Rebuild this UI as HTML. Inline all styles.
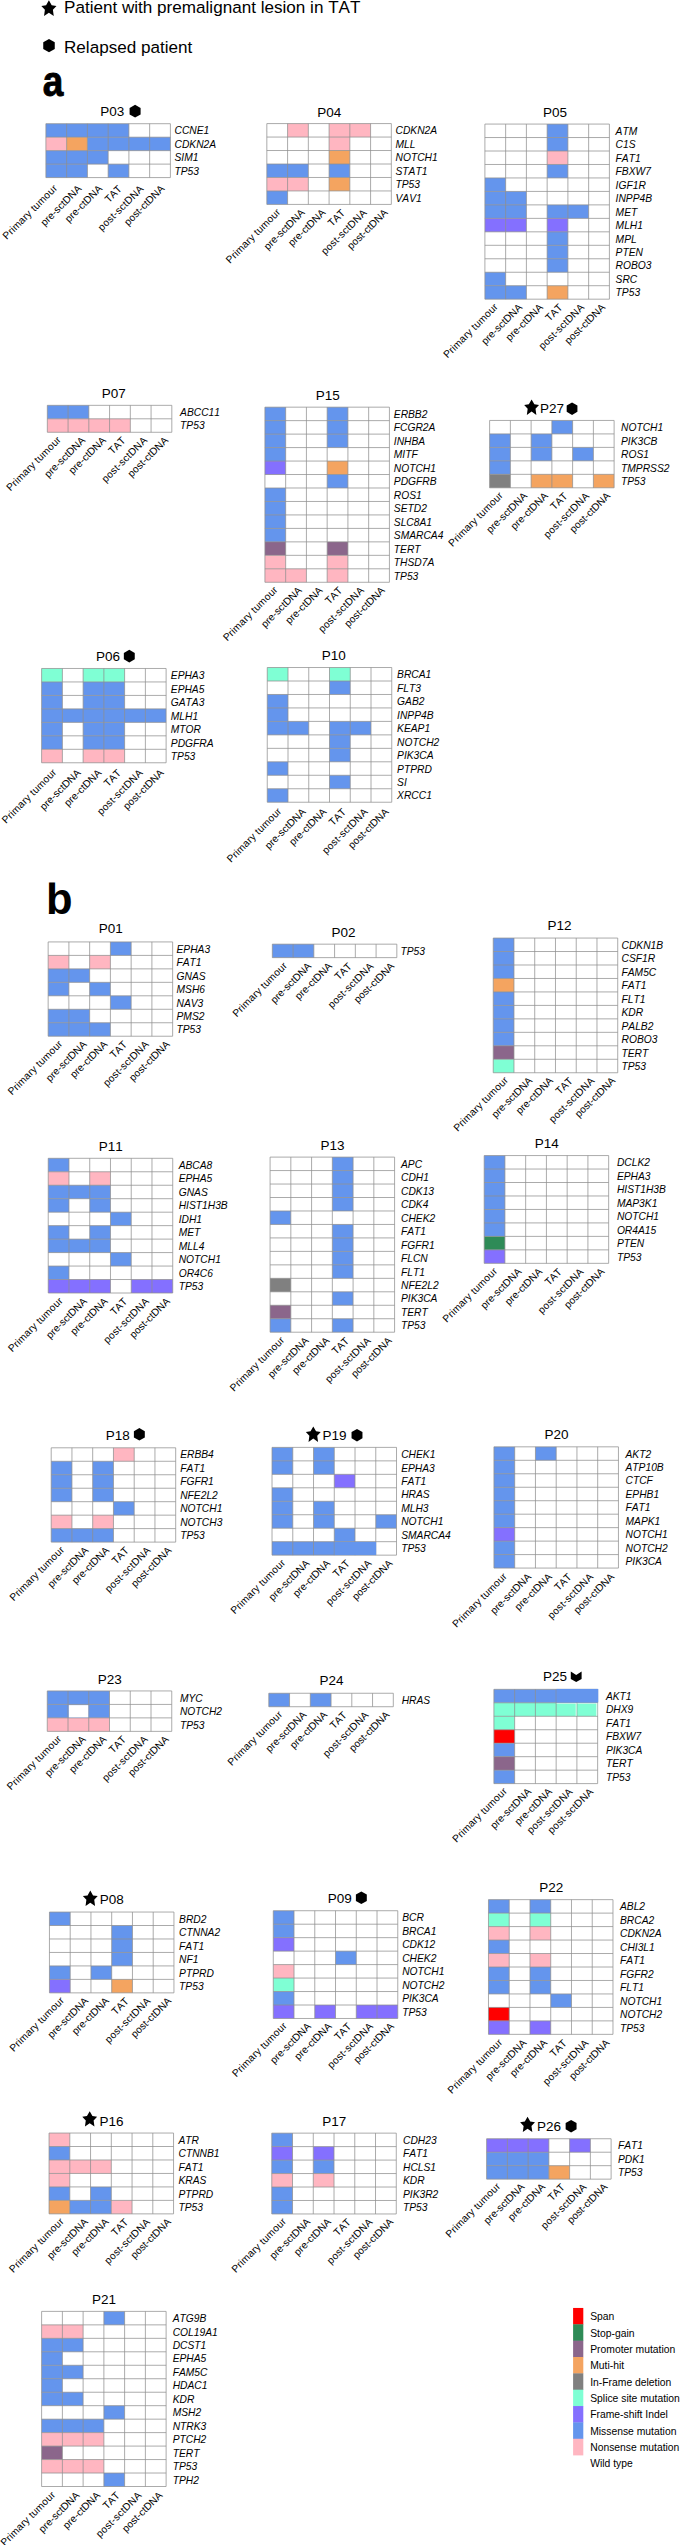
<!DOCTYPE html>
<html lang="en">
<head>
<meta charset="utf-8">
<title>Mutation heatmaps</title>
<style>
html,body{margin:0;padding:0;background:#fff;}
body{width:680px;height:2545px;overflow:hidden;}
svg{display:block;}
text{font-family:"Liberation Sans",Arial,Helvetica,sans-serif;fill:#000;font-kerning:none;}
.g{font-size:10.25px;font-style:italic;}
.c{font-size:10.2px;text-anchor:end;font-kerning:none;}
.pt{letter-spacing:0.2px;}
.ps{letter-spacing:0.22px;}
.t{font-size:13.5px;}
.l{font-size:10.35px;}
.h{font-size:17.1px;}
.big{font-size:43.5px;font-weight:bold;}
.gl{fill:none;stroke:#8f8f8f;stroke-width:0.75;}
</style>
</head>
<body>
<svg width="680" height="2545" viewBox="0 0 680 2545">
<rect width="680" height="2545" fill="#fff"/>
<polygon points="48.9,0.3 51.7,5.18 56.48,5.9 52.9,9.7 53.75,16 48.9,12.65 44.05,16 44.9,9.7 41.32,5.9 46.1,5.18" fill="#000" fill-rule="nonzero"/>
<text class="h" x="64" y="12.5">Patient with premalignant lesion in TAT</text>
<polygon points="49,38.95 54.76,42.27 54.76,48.92 49,52.25 43.24,48.93 43.24,42.27" fill="#000"/>
<text class="h" x="64" y="52.5">Relapsed patient</text>
<text class="big" style="font-size:43px;stroke:#000;stroke-width:0.9px;stroke-linejoin:round" transform="translate(42.8 96.1) scale(0.86 1)">a</text>
<clipPath id="cb"><rect x="40" y="882.6" width="40" height="40"/></clipPath>
<text class="big" x="46" y="913.8" clip-path="url(#cb)">b</text>
<g>
<rect x="45.9" y="123.71" width="124.5" height="53.88" fill="#fff"/>
<rect x="45.9" y="123.71" width="83" height="13.47" fill="#6495ed"/>
<rect x="45.9" y="137.18" width="20.75" height="13.47" fill="#ffb6c1"/>
<rect x="66.65" y="137.18" width="20.75" height="13.47" fill="#f4a460"/>
<rect x="87.4" y="137.18" width="83" height="13.47" fill="#6495ed"/>
<rect x="45.9" y="150.65" width="62.25" height="13.47" fill="#6495ed"/>
<rect x="45.9" y="164.12" width="41.5" height="13.47" fill="#6495ed"/>
<rect x="108.15" y="164.12" width="20.75" height="13.47" fill="#6495ed"/>
<path d="M45.9 123.71H170.4M45.9 137.18H170.4M45.9 150.65H170.4M45.9 164.12H170.4M45.9 177.59H170.4M45.9 123.71V177.59M66.65 123.71V177.59M87.4 123.71V177.59M108.15 123.71V177.59M128.9 123.71V177.59M149.65 123.71V177.59M170.4 123.71V177.59" class="gl"/>
<text class="g" x="174.5" y="134.4">CCNE1</text>
<text class="g" x="174.5" y="147.87">CDKN2A</text>
<text class="g" x="174.5" y="161.34">SIM1</text>
<text class="g" x="174.5" y="174.81">TP53</text>
<text class="c pt" transform="translate(57.95 188.8) rotate(-45)">Primary tumour</text>
<text class="c" transform="translate(82 189.3) rotate(-45)">pre-sctDNA</text>
<text class="c" transform="translate(102.75 189.3) rotate(-45)">pre-ctDNA</text>
<text class="c" transform="translate(122.5 189.6) rotate(-45)">TAT</text>
<text class="c ps" transform="translate(144.25 189.3) rotate(-45)">post-sctDNA</text>
<text class="c" transform="translate(165 189.3) rotate(-45)">post-ctDNA</text>
<text class="t" x="100.35" y="116.3">P03</text>
<polygon points="135.1,104.85 140.6,108.03 140.6,114.38 135.1,117.55 129.6,114.38 129.6,108.03" fill="#000"/>
</g>
<g>
<rect x="266.83" y="123.59" width="124.5" height="80.82" fill="#fff"/>
<rect x="287.58" y="123.59" width="20.75" height="13.47" fill="#ffb6c1"/>
<rect x="329.08" y="123.59" width="41.5" height="13.47" fill="#ffb6c1"/>
<rect x="329.08" y="137.06" width="20.75" height="13.47" fill="#ffb6c1"/>
<rect x="329.08" y="150.53" width="20.75" height="13.47" fill="#f4a460"/>
<rect x="266.83" y="164" width="41.5" height="13.47" fill="#6495ed"/>
<rect x="329.08" y="164" width="20.75" height="13.47" fill="#6495ed"/>
<rect x="266.83" y="177.47" width="41.5" height="13.47" fill="#ffb6c1"/>
<rect x="329.08" y="177.47" width="20.75" height="13.47" fill="#f4a460"/>
<rect x="266.83" y="190.94" width="20.75" height="13.47" fill="#6495ed"/>
<path d="M266.83 123.59H391.33M266.83 137.06H391.33M266.83 150.53H391.33M266.83 164H391.33M266.83 177.47H391.33M266.83 190.94H391.33M266.83 204.41H391.33M266.83 123.59V204.41M287.58 123.59V204.41M308.33 123.59V204.41M329.08 123.59V204.41M349.83 123.59V204.41M370.58 123.59V204.41M391.33 123.59V204.41" class="gl"/>
<text class="g" x="395.5" y="134.27">CDKN2A</text>
<text class="g" x="395.5" y="147.74">MLL</text>
<text class="g" x="395.5" y="161.21">NOTCH1</text>
<text class="g" x="395.5" y="174.68">STAT1</text>
<text class="g" x="395.5" y="188.15">TP53</text>
<text class="g" x="395.5" y="201.62">VAV1</text>
<text class="c pt" transform="translate(281.15 212.7) rotate(-45)">Primary tumour</text>
<text class="c" transform="translate(305.2 213.2) rotate(-45)">pre-sctDNA</text>
<text class="c" transform="translate(325.95 213.2) rotate(-45)">pre-ctDNA</text>
<text class="c" transform="translate(345.7 213.5) rotate(-45)">TAT</text>
<text class="c ps" transform="translate(367.45 213.2) rotate(-45)">post-sctDNA</text>
<text class="c" transform="translate(388.2 213.2) rotate(-45)">post-ctDNA</text>
<text class="t" x="317.15" y="116.5">P04</text>
</g>
<g>
<rect x="484.9" y="124.07" width="124.5" height="175.11" fill="#fff"/>
<rect x="547.15" y="124.07" width="20.75" height="13.47" fill="#6495ed"/>
<rect x="547.15" y="137.54" width="20.75" height="13.47" fill="#6495ed"/>
<rect x="547.15" y="151.01" width="20.75" height="13.47" fill="#ffb6c1"/>
<rect x="547.15" y="164.48" width="20.75" height="13.47" fill="#6495ed"/>
<rect x="484.9" y="177.95" width="20.75" height="13.47" fill="#6495ed"/>
<rect x="484.9" y="191.42" width="41.5" height="13.47" fill="#6495ed"/>
<rect x="484.9" y="204.89" width="41.5" height="13.47" fill="#6495ed"/>
<rect x="547.15" y="204.89" width="41.5" height="13.47" fill="#6495ed"/>
<rect x="484.9" y="218.36" width="41.5" height="13.47" fill="#8470ff"/>
<rect x="547.15" y="218.36" width="20.75" height="13.47" fill="#8470ff"/>
<rect x="547.15" y="231.83" width="20.75" height="13.47" fill="#6495ed"/>
<rect x="547.15" y="245.3" width="20.75" height="13.47" fill="#6495ed"/>
<rect x="547.15" y="258.77" width="20.75" height="13.47" fill="#6495ed"/>
<rect x="484.9" y="272.24" width="20.75" height="13.47" fill="#6495ed"/>
<rect x="484.9" y="285.71" width="41.5" height="13.47" fill="#6495ed"/>
<rect x="547.15" y="285.71" width="20.75" height="13.47" fill="#f4a460"/>
<path d="M484.9 124.07H609.4M484.9 137.54H609.4M484.9 151.01H609.4M484.9 164.48H609.4M484.9 177.95H609.4M484.9 191.42H609.4M484.9 204.89H609.4M484.9 218.36H609.4M484.9 231.83H609.4M484.9 245.3H609.4M484.9 258.77H609.4M484.9 272.24H609.4M484.9 285.71H609.4M484.9 299.18H609.4M484.9 124.07V299.18M505.65 124.07V299.18M526.4 124.07V299.18M547.15 124.07V299.18M567.9 124.07V299.18M588.65 124.07V299.18M609.4 124.07V299.18" class="gl"/>
<text class="g" x="615.6" y="134.75">ATM</text>
<text class="g" x="615.6" y="148.22">C1S</text>
<text class="g" x="615.6" y="161.69">FAT1</text>
<text class="g" x="615.6" y="175.16">FBXW7</text>
<text class="g" x="615.6" y="188.63">IGF1R</text>
<text class="g" x="615.6" y="202.1">INPP4B</text>
<text class="g" x="615.6" y="215.57">MET</text>
<text class="g" x="615.6" y="229.04">MLH1</text>
<text class="g" x="615.6" y="242.51">MPL</text>
<text class="g" x="615.6" y="255.98">PTEN</text>
<text class="g" x="615.6" y="269.45">ROBO3</text>
<text class="g" x="615.6" y="282.93">SRC</text>
<text class="g" x="615.6" y="296.39">TP53</text>
<text class="c pt" transform="translate(498.65 307.4) rotate(-45)">Primary tumour</text>
<text class="c" transform="translate(522.7 307.9) rotate(-45)">pre-sctDNA</text>
<text class="c" transform="translate(543.45 307.9) rotate(-45)">pre-ctDNA</text>
<text class="c" transform="translate(563.2 308.2) rotate(-45)">TAT</text>
<text class="c ps" transform="translate(584.95 307.9) rotate(-45)">post-sctDNA</text>
<text class="c" transform="translate(605.7 307.9) rotate(-45)">post-ctDNA</text>
<text class="t" x="542.95" y="117.2">P05</text>
</g>
<g>
<rect x="47.32" y="405.33" width="124.5" height="26.94" fill="#fff"/>
<rect x="47.32" y="405.33" width="41.5" height="13.47" fill="#6495ed"/>
<rect x="47.32" y="418.8" width="83" height="13.47" fill="#ffb6c1"/>
<path d="M47.32 405.33H171.82M47.32 418.8H171.82M47.32 432.27H171.82M47.32 405.33V432.27M68.07 405.33V432.27M88.82 405.33V432.27M109.57 405.33V432.27M130.32 405.33V432.27M151.07 405.33V432.27M171.82 405.33V432.27" class="gl"/>
<text class="g" x="180.1" y="416.01">ABCC11</text>
<text class="g" x="180.1" y="429.48">TP53</text>
<text class="c pt" transform="translate(61.65 440.4) rotate(-45)">Primary tumour</text>
<text class="c" transform="translate(85.7 440.9) rotate(-45)">pre-sctDNA</text>
<text class="c" transform="translate(106.45 440.9) rotate(-45)">pre-ctDNA</text>
<text class="c" transform="translate(126.2 441.2) rotate(-45)">TAT</text>
<text class="c ps" transform="translate(147.95 440.9) rotate(-45)">post-sctDNA</text>
<text class="c" transform="translate(168.7 440.9) rotate(-45)">post-ctDNA</text>
<text class="t" x="101.75" y="397.85">P07</text>
</g>
<g>
<rect x="264.92" y="407.17" width="124.5" height="175.11" fill="#fff"/>
<rect x="264.92" y="407.17" width="20.75" height="13.47" fill="#6495ed"/>
<rect x="327.17" y="407.17" width="20.75" height="13.47" fill="#6495ed"/>
<rect x="264.92" y="420.64" width="20.75" height="13.47" fill="#6495ed"/>
<rect x="327.17" y="420.64" width="20.75" height="13.47" fill="#6495ed"/>
<rect x="264.92" y="434.11" width="20.75" height="13.47" fill="#6495ed"/>
<rect x="327.17" y="434.11" width="20.75" height="13.47" fill="#6495ed"/>
<rect x="264.92" y="447.58" width="20.75" height="13.47" fill="#6495ed"/>
<rect x="264.92" y="461.05" width="20.75" height="13.47" fill="#8470ff"/>
<rect x="327.17" y="461.05" width="20.75" height="13.47" fill="#f4a460"/>
<rect x="327.17" y="474.52" width="20.75" height="13.47" fill="#6495ed"/>
<rect x="264.92" y="487.99" width="20.75" height="13.47" fill="#6495ed"/>
<rect x="264.92" y="501.46" width="20.75" height="13.47" fill="#6495ed"/>
<rect x="264.92" y="514.93" width="20.75" height="13.47" fill="#6495ed"/>
<rect x="264.92" y="528.4" width="20.75" height="13.47" fill="#6495ed"/>
<rect x="264.92" y="541.87" width="20.75" height="13.47" fill="#8b668b"/>
<rect x="327.17" y="541.87" width="20.75" height="13.47" fill="#8b668b"/>
<rect x="264.92" y="555.34" width="20.75" height="13.47" fill="#ffb6c1"/>
<rect x="327.17" y="555.34" width="20.75" height="13.47" fill="#ffb6c1"/>
<rect x="264.92" y="568.81" width="41.5" height="13.47" fill="#ffb6c1"/>
<rect x="327.17" y="568.81" width="20.75" height="13.47" fill="#ffb6c1"/>
<path d="M264.92 407.17H389.42M264.92 420.64H389.42M264.92 434.11H389.42M264.92 447.58H389.42M264.92 461.05H389.42M264.92 474.52H389.42M264.92 487.99H389.42M264.92 501.46H389.42M264.92 514.93H389.42M264.92 528.4H389.42M264.92 541.87H389.42M264.92 555.34H389.42M264.92 568.81H389.42M264.92 582.28H389.42M264.92 407.17V582.28M285.67 407.17V582.28M306.42 407.17V582.28M327.17 407.17V582.28M347.92 407.17V582.28M368.67 407.17V582.28M389.42 407.17V582.28" class="gl"/>
<text class="g" x="393.8" y="417.86">ERBB2</text>
<text class="g" x="393.8" y="431.32">FCGR2A</text>
<text class="g" x="393.8" y="444.8">INHBA</text>
<text class="g" x="393.8" y="458.26">MITF</text>
<text class="g" x="393.8" y="471.74">NOTCH1</text>
<text class="g" x="393.8" y="485.2">PDGFRB</text>
<text class="g" x="393.8" y="498.68">ROS1</text>
<text class="g" x="393.8" y="512.15">SETD2</text>
<text class="g" x="393.8" y="525.62">SLC8A1</text>
<text class="g" x="393.8" y="539.09">SMARCA4</text>
<text class="g" x="393.8" y="552.56">TERT</text>
<text class="g" x="393.8" y="566.03">THSD7A</text>
<text class="g" x="393.8" y="579.5">TP53</text>
<text class="c pt" transform="translate(278.35 590.4) rotate(-45)">Primary tumour</text>
<text class="c" transform="translate(302.4 590.9) rotate(-45)">pre-sctDNA</text>
<text class="c" transform="translate(323.15 590.9) rotate(-45)">pre-ctDNA</text>
<text class="c" transform="translate(342.9 591.2) rotate(-45)">TAT</text>
<text class="c ps" transform="translate(364.65 590.9) rotate(-45)">post-sctDNA</text>
<text class="c" transform="translate(385.4 590.9) rotate(-45)">post-ctDNA</text>
<text class="t" x="315.85" y="399.6">P15</text>
</g>
<g>
<rect x="489.62" y="420.45" width="124.5" height="67.35" fill="#fff"/>
<rect x="551.88" y="420.45" width="20.75" height="13.47" fill="#6495ed"/>
<rect x="489.62" y="433.92" width="20.75" height="13.47" fill="#6495ed"/>
<rect x="531.12" y="433.92" width="20.75" height="13.47" fill="#6495ed"/>
<rect x="489.62" y="447.39" width="20.75" height="13.47" fill="#6495ed"/>
<rect x="531.12" y="447.39" width="20.75" height="13.47" fill="#6495ed"/>
<rect x="572.62" y="447.39" width="20.75" height="13.47" fill="#6495ed"/>
<rect x="489.62" y="460.86" width="20.75" height="13.47" fill="#6495ed"/>
<rect x="489.62" y="474.33" width="20.75" height="13.47" fill="#808080"/>
<rect x="531.12" y="474.33" width="41.5" height="13.47" fill="#f4a460"/>
<rect x="593.38" y="474.33" width="20.75" height="13.47" fill="#f4a460"/>
<path d="M489.62 420.45H614.12M489.62 433.92H614.12M489.62 447.39H614.12M489.62 460.86H614.12M489.62 474.33H614.12M489.62 487.8H614.12M489.62 420.45V487.8M510.38 420.45V487.8M531.12 420.45V487.8M551.88 420.45V487.8M572.62 420.45V487.8M593.38 420.45V487.8M614.12 420.45V487.8" class="gl"/>
<text class="g" x="621" y="431.13">NOTCH1</text>
<text class="g" x="621" y="444.6">PIK3CB</text>
<text class="g" x="621" y="458.07">ROS1</text>
<text class="g" x="621" y="471.54">TMPRSS2</text>
<text class="g" x="621" y="485.01">TP53</text>
<text class="c pt" transform="translate(503.65 496) rotate(-45)">Primary tumour</text>
<text class="c" transform="translate(527.7 496.5) rotate(-45)">pre-sctDNA</text>
<text class="c" transform="translate(548.45 496.5) rotate(-45)">pre-ctDNA</text>
<text class="c" transform="translate(568.2 496.8) rotate(-45)">TAT</text>
<text class="c ps" transform="translate(589.95 496.5) rotate(-45)">post-sctDNA</text>
<text class="c" transform="translate(610.7 496.5) rotate(-45)">post-ctDNA</text>
<text class="t" x="539.95" y="412.8">P27</text>
<polygon points="531.6,399.51 534.34,404.29 539.03,405 535.52,408.72 536.35,414.89 531.6,411.61 526.85,414.89 527.68,408.72 524.17,405 528.86,404.29" fill="#000" fill-rule="nonzero"/>
<polygon points="572.05,402.5 577.42,405.6 577.42,411.8 572.05,414.9 566.68,411.8 566.68,405.6" fill="#000"/>
</g>
<g>
<rect x="41.62" y="668.48" width="124.5" height="94.29" fill="#fff"/>
<rect x="41.62" y="668.48" width="20.75" height="13.47" fill="#7fffd4"/>
<rect x="83.12" y="668.48" width="41.5" height="13.47" fill="#7fffd4"/>
<rect x="41.62" y="681.95" width="20.75" height="13.47" fill="#6495ed"/>
<rect x="83.12" y="681.95" width="41.5" height="13.47" fill="#6495ed"/>
<rect x="41.62" y="695.42" width="20.75" height="13.47" fill="#6495ed"/>
<rect x="83.12" y="695.42" width="41.5" height="13.47" fill="#6495ed"/>
<rect x="41.62" y="708.89" width="124.5" height="13.47" fill="#6495ed"/>
<rect x="41.62" y="722.36" width="20.75" height="13.47" fill="#6495ed"/>
<rect x="83.12" y="722.36" width="41.5" height="13.47" fill="#6495ed"/>
<rect x="41.62" y="735.83" width="20.75" height="13.47" fill="#6495ed"/>
<rect x="83.12" y="735.83" width="41.5" height="13.47" fill="#6495ed"/>
<rect x="41.62" y="749.3" width="20.75" height="13.47" fill="#ffb6c1"/>
<rect x="83.12" y="749.3" width="41.5" height="13.47" fill="#ffb6c1"/>
<path d="M41.62 668.48H166.12M41.62 681.95H166.12M41.62 695.42H166.12M41.62 708.89H166.12M41.62 722.36H166.12M41.62 735.83H166.12M41.62 749.3H166.12M41.62 762.77H166.12M41.62 668.48V762.77M62.38 668.48V762.77M83.12 668.48V762.77M103.88 668.48V762.77M124.62 668.48V762.77M145.38 668.48V762.77M166.12 668.48V762.77" class="gl"/>
<text class="g" x="170.8" y="679.17">EPHA3</text>
<text class="g" x="170.8" y="692.64">EPHA5</text>
<text class="g" x="170.8" y="706.11">GATA3</text>
<text class="g" x="170.8" y="719.58">MLH1</text>
<text class="g" x="170.8" y="733.05">MTOR</text>
<text class="g" x="170.8" y="746.52">PDGFRA</text>
<text class="g" x="170.8" y="759.99">TP53</text>
<text class="c pt" transform="translate(57.15 772.9) rotate(-45)">Primary tumour</text>
<text class="c" transform="translate(81.2 773.4) rotate(-45)">pre-sctDNA</text>
<text class="c" transform="translate(101.95 773.4) rotate(-45)">pre-ctDNA</text>
<text class="c" transform="translate(121.7 773.7) rotate(-45)">TAT</text>
<text class="c ps" transform="translate(143.45 773.4) rotate(-45)">post-sctDNA</text>
<text class="c" transform="translate(164.2 773.4) rotate(-45)">post-ctDNA</text>
<text class="t" x="95.95" y="661.1">P06</text>
<polygon points="129.3,649.85 134.76,653 134.76,659.3 129.3,662.45 123.84,659.3 123.84,653" fill="#000"/>
</g>
<g>
<rect x="267.25" y="667.52" width="124.5" height="134.7" fill="#fff"/>
<rect x="267.25" y="667.52" width="20.75" height="13.47" fill="#7fffd4"/>
<rect x="329.5" y="667.52" width="20.75" height="13.47" fill="#7fffd4"/>
<rect x="329.5" y="681" width="20.75" height="13.47" fill="#6495ed"/>
<rect x="267.25" y="694.47" width="20.75" height="13.47" fill="#6495ed"/>
<rect x="267.25" y="707.93" width="20.75" height="13.47" fill="#6495ed"/>
<rect x="267.25" y="721.4" width="41.5" height="13.47" fill="#6495ed"/>
<rect x="329.5" y="721.4" width="41.5" height="13.47" fill="#6495ed"/>
<rect x="329.5" y="734.88" width="20.75" height="13.47" fill="#6495ed"/>
<rect x="329.5" y="748.35" width="20.75" height="13.47" fill="#6495ed"/>
<rect x="267.25" y="761.81" width="20.75" height="13.47" fill="#6495ed"/>
<rect x="329.5" y="775.28" width="20.75" height="13.47" fill="#6495ed"/>
<rect x="267.25" y="788.75" width="20.75" height="13.47" fill="#6495ed"/>
<path d="M267.25 667.52H391.75M267.25 681H391.75M267.25 694.47H391.75M267.25 707.93H391.75M267.25 721.4H391.75M267.25 734.88H391.75M267.25 748.35H391.75M267.25 761.81H391.75M267.25 775.28H391.75M267.25 788.75H391.75M267.25 802.23H391.75M267.25 667.52V802.23M288 667.52V802.23M308.75 667.52V802.23M329.5 667.52V802.23M350.25 667.52V802.23M371 667.52V802.23M391.75 667.52V802.23" class="gl"/>
<text class="g" x="397.1" y="678.21">BRCA1</text>
<text class="g" x="397.1" y="691.68">FLT3</text>
<text class="g" x="397.1" y="705.15">GAB2</text>
<text class="g" x="397.1" y="718.62">INPP4B</text>
<text class="g" x="397.1" y="732.09">KEAP1</text>
<text class="g" x="397.1" y="745.56">NOTCH2</text>
<text class="g" x="397.1" y="759.03">PIK3CA</text>
<text class="g" x="397.1" y="772.5">PTPRD</text>
<text class="g" x="397.1" y="785.97">SI</text>
<text class="g" x="397.1" y="799.44">XRCC1</text>
<text class="c pt" transform="translate(282.15 811.9) rotate(-45)">Primary tumour</text>
<text class="c" transform="translate(306.2 812.4) rotate(-45)">pre-sctDNA</text>
<text class="c" transform="translate(326.95 812.4) rotate(-45)">pre-ctDNA</text>
<text class="c" transform="translate(346.7 812.7) rotate(-45)">TAT</text>
<text class="c ps" transform="translate(368.45 812.4) rotate(-45)">post-sctDNA</text>
<text class="c" transform="translate(389.2 812.4) rotate(-45)">post-ctDNA</text>
<text class="t" x="321.75" y="659.85">P10</text>
</g>
<g>
<rect x="48.15" y="941.93" width="124.5" height="94.29" fill="#fff"/>
<rect x="110.4" y="941.93" width="20.75" height="13.47" fill="#6495ed"/>
<rect x="48.15" y="955.4" width="20.75" height="13.47" fill="#ffb6c1"/>
<rect x="89.65" y="955.4" width="20.75" height="13.47" fill="#ffb6c1"/>
<rect x="48.15" y="968.87" width="41.5" height="13.47" fill="#6495ed"/>
<rect x="48.15" y="982.34" width="20.75" height="13.47" fill="#6495ed"/>
<rect x="89.65" y="982.34" width="20.75" height="13.47" fill="#6495ed"/>
<rect x="110.4" y="995.81" width="20.75" height="13.47" fill="#6495ed"/>
<rect x="48.15" y="1009.28" width="41.5" height="13.47" fill="#6495ed"/>
<rect x="48.15" y="1022.75" width="62.25" height="13.47" fill="#6495ed"/>
<path d="M48.15 941.93H172.65M48.15 955.4H172.65M48.15 968.87H172.65M48.15 982.34H172.65M48.15 995.81H172.65M48.15 1009.28H172.65M48.15 1022.75H172.65M48.15 1036.22H172.65M48.15 941.93V1036.22M68.9 941.93V1036.22M89.65 941.93V1036.22M110.4 941.93V1036.22M131.15 941.93V1036.22M151.9 941.93V1036.22M172.65 941.93V1036.22" class="gl"/>
<text class="g" x="176.5" y="952.62">EPHA3</text>
<text class="g" x="176.5" y="966.09">FAT1</text>
<text class="g" x="176.5" y="979.55">GNAS</text>
<text class="g" x="176.5" y="993.02">MSH6</text>
<text class="g" x="176.5" y="1006.5">NAV3</text>
<text class="g" x="176.5" y="1019.97">PMS2</text>
<text class="g" x="176.5" y="1033.43">TP53</text>
<text class="c pt" transform="translate(63.15 1044.4) rotate(-45)">Primary tumour</text>
<text class="c" transform="translate(87.2 1044.9) rotate(-45)">pre-sctDNA</text>
<text class="c" transform="translate(107.95 1044.9) rotate(-45)">pre-ctDNA</text>
<text class="c" transform="translate(127.7 1045.2) rotate(-45)">TAT</text>
<text class="c ps" transform="translate(149.45 1044.9) rotate(-45)">post-sctDNA</text>
<text class="c" transform="translate(170.2 1044.9) rotate(-45)">post-ctDNA</text>
<text class="t" x="98.85" y="932.9">P01</text>
</g>
<g>
<rect x="272.33" y="944.16" width="124.5" height="13.47" fill="#fff"/>
<rect x="272.33" y="944.16" width="41.5" height="13.47" fill="#6495ed"/>
<path d="M272.33 944.16H396.83M272.33 957.63H396.83M272.33 944.16V957.63M293.08 944.16V957.63M313.83 944.16V957.63M334.58 944.16V957.63M355.33 944.16V957.63M376.08 944.16V957.63M396.83 944.16V957.63" class="gl"/>
<text class="g" x="400.5" y="954.85">TP53</text>
<text class="c pt" transform="translate(287.85 966.2) rotate(-45)">Primary tumour</text>
<text class="c" transform="translate(311.9 966.7) rotate(-45)">pre-sctDNA</text>
<text class="c" transform="translate(332.65 966.7) rotate(-45)">pre-ctDNA</text>
<text class="c" transform="translate(352.4 967) rotate(-45)">TAT</text>
<text class="c ps" transform="translate(374.15 966.7) rotate(-45)">post-sctDNA</text>
<text class="c" transform="translate(394.9 966.7) rotate(-45)">post-ctDNA</text>
<text class="t" x="331.5" y="936.5">P02</text>
</g>
<g>
<rect x="493.23" y="938.05" width="124.5" height="134.7" fill="#fff"/>
<rect x="493.23" y="938.05" width="20.75" height="13.47" fill="#6495ed"/>
<rect x="493.23" y="951.52" width="20.75" height="13.47" fill="#6495ed"/>
<rect x="493.23" y="964.99" width="20.75" height="13.47" fill="#6495ed"/>
<rect x="493.23" y="978.46" width="20.75" height="13.47" fill="#f4a460"/>
<rect x="493.23" y="991.93" width="20.75" height="13.47" fill="#6495ed"/>
<rect x="493.23" y="1005.4" width="20.75" height="13.47" fill="#6495ed"/>
<rect x="493.23" y="1018.87" width="20.75" height="13.47" fill="#6495ed"/>
<rect x="493.23" y="1032.34" width="20.75" height="13.47" fill="#6495ed"/>
<rect x="493.23" y="1045.81" width="20.75" height="13.47" fill="#8b668b"/>
<rect x="493.23" y="1059.28" width="20.75" height="13.47" fill="#7fffd4"/>
<path d="M493.23 938.05H617.73M493.23 951.52H617.73M493.23 964.99H617.73M493.23 978.46H617.73M493.23 991.93H617.73M493.23 1005.4H617.73M493.23 1018.87H617.73M493.23 1032.34H617.73M493.23 1045.81H617.73M493.23 1059.28H617.73M493.23 1072.75H617.73M493.23 938.05V1072.75M513.98 938.05V1072.75M534.73 938.05V1072.75M555.48 938.05V1072.75M576.23 938.05V1072.75M596.98 938.05V1072.75M617.73 938.05V1072.75" class="gl"/>
<text class="g" x="621.5" y="948.74">CDKN1B</text>
<text class="g" x="621.5" y="962.21">CSF1R</text>
<text class="g" x="621.5" y="975.67">FAM5C</text>
<text class="g" x="621.5" y="989.14">FAT1</text>
<text class="g" x="621.5" y="1002.62">FLT1</text>
<text class="g" x="621.5" y="1016.09">KDR</text>
<text class="g" x="621.5" y="1029.56">PALB2</text>
<text class="g" x="621.5" y="1043.03">ROBO3</text>
<text class="g" x="621.5" y="1056.5">TERT</text>
<text class="g" x="621.5" y="1069.96">TP53</text>
<text class="c pt" transform="translate(508.85 1080.7) rotate(-45)">Primary tumour</text>
<text class="c" transform="translate(532.9 1081.2) rotate(-45)">pre-sctDNA</text>
<text class="c" transform="translate(553.65 1081.2) rotate(-45)">pre-ctDNA</text>
<text class="c" transform="translate(573.4 1081.5) rotate(-45)">TAT</text>
<text class="c ps" transform="translate(595.15 1081.2) rotate(-45)">post-sctDNA</text>
<text class="c" transform="translate(615.9 1081.2) rotate(-45)">post-ctDNA</text>
<text class="t" x="547.4" y="930.2">P12</text>
</g>
<g>
<rect x="48.22" y="1158.3" width="124.5" height="134.7" fill="#fff"/>
<rect x="48.22" y="1158.3" width="20.75" height="13.47" fill="#6495ed"/>
<rect x="48.22" y="1171.77" width="20.75" height="13.47" fill="#ffb6c1"/>
<rect x="89.72" y="1171.77" width="20.75" height="13.47" fill="#ffb6c1"/>
<rect x="48.22" y="1185.24" width="62.25" height="13.47" fill="#6495ed"/>
<rect x="48.22" y="1198.71" width="20.75" height="13.47" fill="#6495ed"/>
<rect x="89.72" y="1198.71" width="20.75" height="13.47" fill="#6495ed"/>
<rect x="110.47" y="1212.18" width="20.75" height="13.47" fill="#6495ed"/>
<rect x="48.22" y="1225.65" width="20.75" height="13.47" fill="#6495ed"/>
<rect x="89.72" y="1225.65" width="20.75" height="13.47" fill="#6495ed"/>
<rect x="48.22" y="1239.12" width="62.25" height="13.47" fill="#6495ed"/>
<rect x="110.47" y="1252.59" width="20.75" height="13.47" fill="#6495ed"/>
<rect x="48.22" y="1266.06" width="20.75" height="13.47" fill="#6495ed"/>
<rect x="48.22" y="1279.53" width="62.25" height="13.47" fill="#8470ff"/>
<rect x="131.22" y="1279.53" width="41.5" height="13.47" fill="#8470ff"/>
<path d="M48.22 1158.3H172.72M48.22 1171.77H172.72M48.22 1185.24H172.72M48.22 1198.71H172.72M48.22 1212.18H172.72M48.22 1225.65H172.72M48.22 1239.12H172.72M48.22 1252.59H172.72M48.22 1266.06H172.72M48.22 1279.53H172.72M48.22 1293H172.72M48.22 1158.3V1293M68.97 1158.3V1293M89.72 1158.3V1293M110.47 1158.3V1293M131.22 1158.3V1293M151.97 1158.3V1293M172.72 1158.3V1293" class="gl"/>
<text class="g" x="178.7" y="1168.99">ABCA8</text>
<text class="g" x="178.7" y="1182.46">EPHA5</text>
<text class="g" x="178.7" y="1195.93">GNAS</text>
<text class="g" x="178.7" y="1209.4">HIST1H3B</text>
<text class="g" x="178.7" y="1222.87">IDH1</text>
<text class="g" x="178.7" y="1236.34">MET</text>
<text class="g" x="178.7" y="1249.81">MLL4</text>
<text class="g" x="178.7" y="1263.28">NOTCH1</text>
<text class="g" x="178.7" y="1276.75">OR4C6</text>
<text class="g" x="178.7" y="1290.22">TP53</text>
<text class="c pt" transform="translate(63.45 1301.4) rotate(-45)">Primary tumour</text>
<text class="c" transform="translate(87.5 1301.9) rotate(-45)">pre-sctDNA</text>
<text class="c" transform="translate(108.25 1301.9) rotate(-45)">pre-ctDNA</text>
<text class="c" transform="translate(128 1302.2) rotate(-45)">TAT</text>
<text class="c ps" transform="translate(149.75 1301.9) rotate(-45)">post-sctDNA</text>
<text class="c" transform="translate(170.5 1301.9) rotate(-45)">post-ctDNA</text>
<text class="t" x="98.85" y="1150.5">P11</text>
</g>
<g>
<rect x="270.08" y="1157.1" width="124.5" height="175.11" fill="#fff"/>
<rect x="332.33" y="1157.1" width="20.75" height="13.47" fill="#6495ed"/>
<rect x="332.33" y="1170.57" width="20.75" height="13.47" fill="#6495ed"/>
<rect x="332.33" y="1184.04" width="20.75" height="13.47" fill="#6495ed"/>
<rect x="332.33" y="1197.51" width="20.75" height="13.47" fill="#6495ed"/>
<rect x="270.08" y="1210.98" width="20.75" height="13.47" fill="#6495ed"/>
<rect x="332.33" y="1224.44" width="20.75" height="13.47" fill="#6495ed"/>
<rect x="332.33" y="1237.91" width="20.75" height="13.47" fill="#6495ed"/>
<rect x="332.33" y="1251.38" width="20.75" height="13.47" fill="#6495ed"/>
<rect x="332.33" y="1264.86" width="20.75" height="13.47" fill="#6495ed"/>
<rect x="270.08" y="1278.33" width="20.75" height="13.47" fill="#808080"/>
<rect x="332.33" y="1291.8" width="20.75" height="13.47" fill="#6495ed"/>
<rect x="270.08" y="1305.27" width="20.75" height="13.47" fill="#8b668b"/>
<rect x="270.08" y="1318.74" width="20.75" height="13.47" fill="#6495ed"/>
<rect x="332.33" y="1318.74" width="20.75" height="13.47" fill="#6495ed"/>
<path d="M270.08 1157.1H394.58M270.08 1170.57H394.58M270.08 1184.04H394.58M270.08 1197.51H394.58M270.08 1210.98H394.58M270.08 1224.44H394.58M270.08 1237.91H394.58M270.08 1251.38H394.58M270.08 1264.86H394.58M270.08 1278.33H394.58M270.08 1291.8H394.58M270.08 1305.27H394.58M270.08 1318.74H394.58M270.08 1332.2H394.58M270.08 1157.1V1332.2M290.83 1157.1V1332.2M311.58 1157.1V1332.2M332.33 1157.1V1332.2M353.08 1157.1V1332.2M373.83 1157.1V1332.2M394.58 1157.1V1332.2" class="gl"/>
<text class="g" x="401" y="1167.78">APC</text>
<text class="g" x="401" y="1181.25">CDH1</text>
<text class="g" x="401" y="1194.72">CDK13</text>
<text class="g" x="401" y="1208.19">CDK4</text>
<text class="g" x="401" y="1221.66">CHEK2</text>
<text class="g" x="401" y="1235.13">FAT1</text>
<text class="g" x="401" y="1248.6">FGFR1</text>
<text class="g" x="401" y="1262.07">FLCN</text>
<text class="g" x="401" y="1275.54">FLT1</text>
<text class="g" x="401" y="1289.01">NFE2L2</text>
<text class="g" x="401" y="1302.48">PIK3CA</text>
<text class="g" x="401" y="1315.95">TERT</text>
<text class="g" x="401" y="1329.42">TP53</text>
<text class="c pt" transform="translate(285.15 1340.7) rotate(-45)">Primary tumour</text>
<text class="c" transform="translate(309.2 1341.2) rotate(-45)">pre-sctDNA</text>
<text class="c" transform="translate(329.95 1341.2) rotate(-45)">pre-ctDNA</text>
<text class="c" transform="translate(349.7 1341.5) rotate(-45)">TAT</text>
<text class="c ps" transform="translate(371.45 1341.2) rotate(-45)">post-sctDNA</text>
<text class="c" transform="translate(392.2 1341.2) rotate(-45)">post-ctDNA</text>
<text class="t" x="320.45" y="1149.55">P13</text>
</g>
<g>
<rect x="484.18" y="1155.57" width="124.5" height="107.76" fill="#fff"/>
<rect x="484.18" y="1155.57" width="20.75" height="13.47" fill="#6495ed"/>
<rect x="484.18" y="1169.04" width="20.75" height="13.47" fill="#6495ed"/>
<rect x="484.18" y="1182.51" width="20.75" height="13.47" fill="#6495ed"/>
<rect x="484.18" y="1195.98" width="20.75" height="13.47" fill="#6495ed"/>
<rect x="484.18" y="1209.45" width="20.75" height="13.47" fill="#6495ed"/>
<rect x="484.18" y="1222.92" width="20.75" height="13.47" fill="#6495ed"/>
<rect x="484.18" y="1236.39" width="20.75" height="13.47" fill="#2e8b57"/>
<rect x="484.18" y="1249.86" width="20.75" height="13.47" fill="#8470ff"/>
<path d="M484.18 1155.57H608.67M484.18 1169.04H608.67M484.18 1182.51H608.67M484.18 1195.98H608.67M484.18 1209.45H608.67M484.18 1222.92H608.67M484.18 1236.39H608.67M484.18 1249.86H608.67M484.18 1263.33H608.67M484.18 1155.57V1263.33M504.93 1155.57V1263.33M525.67 1155.57V1263.33M546.42 1155.57V1263.33M567.17 1155.57V1263.33M587.92 1155.57V1263.33M608.67 1155.57V1263.33" class="gl"/>
<text class="g" x="616.9" y="1166.26">DCLK2</text>
<text class="g" x="616.9" y="1179.73">EPHA3</text>
<text class="g" x="616.9" y="1193.2">HIST1H3B</text>
<text class="g" x="616.9" y="1206.67">MAP3K1</text>
<text class="g" x="616.9" y="1220.14">NOTCH1</text>
<text class="g" x="616.9" y="1233.61">OR4A15</text>
<text class="g" x="616.9" y="1247.08">PTEN</text>
<text class="g" x="616.9" y="1260.55">TP53</text>
<text class="c pt" transform="translate(497.95 1271.7) rotate(-45)">Primary tumour</text>
<text class="c" transform="translate(522 1272.2) rotate(-45)">pre-sctDNA</text>
<text class="c" transform="translate(542.75 1272.2) rotate(-45)">pre-ctDNA</text>
<text class="c" transform="translate(562.5 1272.5) rotate(-45)">TAT</text>
<text class="c ps" transform="translate(584.25 1272.2) rotate(-45)">post-sctDNA</text>
<text class="c" transform="translate(605 1272.2) rotate(-45)">post-ctDNA</text>
<text class="t" x="534.75" y="1147.8">P14</text>
</g>
<g>
<rect x="51.2" y="1447.81" width="124.5" height="94.29" fill="#fff"/>
<rect x="113.45" y="1447.81" width="20.75" height="13.47" fill="#ffb6c1"/>
<rect x="51.2" y="1461.28" width="20.75" height="13.47" fill="#6495ed"/>
<rect x="92.7" y="1461.28" width="20.75" height="13.47" fill="#6495ed"/>
<rect x="51.2" y="1474.75" width="20.75" height="13.47" fill="#6495ed"/>
<rect x="92.7" y="1474.75" width="20.75" height="13.47" fill="#6495ed"/>
<rect x="51.2" y="1488.22" width="20.75" height="13.47" fill="#6495ed"/>
<rect x="92.7" y="1488.22" width="20.75" height="13.47" fill="#6495ed"/>
<rect x="113.45" y="1501.69" width="20.75" height="13.47" fill="#6495ed"/>
<rect x="51.2" y="1515.15" width="20.75" height="13.47" fill="#ffb6c1"/>
<rect x="92.7" y="1515.15" width="20.75" height="13.47" fill="#ffb6c1"/>
<rect x="51.2" y="1528.62" width="62.25" height="13.47" fill="#6495ed"/>
<path d="M51.2 1447.81H175.7M51.2 1461.28H175.7M51.2 1474.75H175.7M51.2 1488.22H175.7M51.2 1501.69H175.7M51.2 1515.15H175.7M51.2 1528.62H175.7M51.2 1542.1H175.7M51.2 1447.81V1542.1M71.95 1447.81V1542.1M92.7 1447.81V1542.1M113.45 1447.81V1542.1M134.2 1447.81V1542.1M154.95 1447.81V1542.1M175.7 1447.81V1542.1" class="gl"/>
<text class="g" x="180.2" y="1458.49">ERBB4</text>
<text class="g" x="180.2" y="1471.96">FAT1</text>
<text class="g" x="180.2" y="1485.43">FGFR1</text>
<text class="g" x="180.2" y="1498.9">NFE2L2</text>
<text class="g" x="180.2" y="1512.37">NOTCH1</text>
<text class="g" x="180.2" y="1525.84">NOTCH3</text>
<text class="g" x="180.2" y="1539.31">TP53</text>
<text class="c pt" transform="translate(64.95 1550.4) rotate(-45)">Primary tumour</text>
<text class="c" transform="translate(89 1550.9) rotate(-45)">pre-sctDNA</text>
<text class="c" transform="translate(109.75 1550.9) rotate(-45)">pre-ctDNA</text>
<text class="c" transform="translate(129.5 1551.2) rotate(-45)">TAT</text>
<text class="c ps" transform="translate(151.25 1550.9) rotate(-45)">post-sctDNA</text>
<text class="c" transform="translate(172 1550.9) rotate(-45)">post-ctDNA</text>
<text class="t" x="105.65" y="1440.1">P18</text>
<polygon points="139.35,1428 144.81,1431.15 144.81,1437.45 139.35,1440.6 133.89,1437.45 133.89,1431.15" fill="#000"/>
</g>
<g>
<rect x="272.02" y="1447.39" width="124.5" height="107.76" fill="#fff"/>
<rect x="272.02" y="1447.39" width="20.75" height="13.47" fill="#6495ed"/>
<rect x="313.52" y="1447.39" width="20.75" height="13.47" fill="#6495ed"/>
<rect x="272.02" y="1460.87" width="20.75" height="13.47" fill="#6495ed"/>
<rect x="313.52" y="1460.87" width="20.75" height="13.47" fill="#6495ed"/>
<rect x="334.27" y="1474.34" width="20.75" height="13.47" fill="#8470ff"/>
<rect x="272.02" y="1487.81" width="20.75" height="13.47" fill="#6495ed"/>
<rect x="272.02" y="1501.28" width="20.75" height="13.47" fill="#6495ed"/>
<rect x="313.52" y="1501.28" width="20.75" height="13.47" fill="#6495ed"/>
<rect x="272.02" y="1514.74" width="20.75" height="13.47" fill="#6495ed"/>
<rect x="313.52" y="1514.74" width="20.75" height="13.47" fill="#6495ed"/>
<rect x="375.77" y="1514.74" width="20.75" height="13.47" fill="#6495ed"/>
<rect x="334.27" y="1528.21" width="20.75" height="13.47" fill="#6495ed"/>
<rect x="272.02" y="1541.68" width="103.75" height="13.47" fill="#6495ed"/>
<path d="M272.02 1447.39H396.52M272.02 1460.87H396.52M272.02 1474.34H396.52M272.02 1487.81H396.52M272.02 1501.28H396.52M272.02 1514.74H396.52M272.02 1528.21H396.52M272.02 1541.68H396.52M272.02 1555.15H396.52M272.02 1447.39V1555.15M292.77 1447.39V1555.15M313.52 1447.39V1555.15M334.27 1447.39V1555.15M355.02 1447.39V1555.15M375.77 1447.39V1555.15M396.52 1447.39V1555.15" class="gl"/>
<rect x="334.67" y="1542.09" width="41.5" height="12.67" fill="#6495ed"/>
<text class="g" x="401.2" y="1458.08">CHEK1</text>
<text class="g" x="401.2" y="1471.55">EPHA3</text>
<text class="g" x="401.2" y="1485.02">FAT1</text>
<text class="g" x="401.2" y="1498.49">HRAS</text>
<text class="g" x="401.2" y="1511.96">MLH3</text>
<text class="g" x="401.2" y="1525.43">NOTCH1</text>
<text class="g" x="401.2" y="1538.9">SMARCA4</text>
<text class="g" x="401.2" y="1552.37">TP53</text>
<text class="c pt" transform="translate(285.95 1563.4) rotate(-45)">Primary tumour</text>
<text class="c" transform="translate(310 1563.9) rotate(-45)">pre-sctDNA</text>
<text class="c" transform="translate(330.75 1563.9) rotate(-45)">pre-ctDNA</text>
<text class="c" transform="translate(350.5 1564.2) rotate(-45)">TAT</text>
<text class="c ps" transform="translate(372.25 1563.9) rotate(-45)">post-sctDNA</text>
<text class="c" transform="translate(393 1563.9) rotate(-45)">post-ctDNA</text>
<text class="t" x="322.45" y="1439.8">P19</text>
<polygon points="313.3,1426.51 316.04,1431.29 320.73,1432 317.22,1435.72 318.05,1441.89 313.3,1438.61 308.55,1441.89 309.38,1435.72 305.87,1432 310.56,1431.29" fill="#000" fill-rule="nonzero"/>
<polygon points="357,1428.9 362.46,1432.05 362.46,1438.35 357,1441.5 351.54,1438.35 351.54,1432.05" fill="#000"/>
</g>
<g>
<rect x="493.95" y="1446.84" width="124.5" height="121.23" fill="#fff"/>
<rect x="493.95" y="1446.84" width="20.75" height="13.47" fill="#6495ed"/>
<rect x="535.45" y="1446.84" width="20.75" height="13.47" fill="#6495ed"/>
<rect x="493.95" y="1460.31" width="20.75" height="13.47" fill="#6495ed"/>
<rect x="493.95" y="1473.78" width="20.75" height="13.47" fill="#6495ed"/>
<rect x="493.95" y="1487.25" width="20.75" height="13.47" fill="#6495ed"/>
<rect x="493.95" y="1500.72" width="20.75" height="13.47" fill="#6495ed"/>
<rect x="493.95" y="1514.18" width="20.75" height="13.47" fill="#6495ed"/>
<rect x="493.95" y="1527.65" width="20.75" height="13.47" fill="#8470ff"/>
<rect x="493.95" y="1541.12" width="20.75" height="13.47" fill="#6495ed"/>
<rect x="493.95" y="1554.6" width="20.75" height="13.47" fill="#6495ed"/>
<path d="M493.95 1446.84H618.45M493.95 1460.31H618.45M493.95 1473.78H618.45M493.95 1487.25H618.45M493.95 1500.72H618.45M493.95 1514.18H618.45M493.95 1527.65H618.45M493.95 1541.12H618.45M493.95 1554.6H618.45M493.95 1568.07H618.45M493.95 1446.84V1568.07M514.7 1446.84V1568.07M535.45 1446.84V1568.07M556.2 1446.84V1568.07M576.95 1446.84V1568.07M597.7 1446.84V1568.07M618.45 1446.84V1568.07" class="gl"/>
<text class="g" x="625.5" y="1457.52">AKT2</text>
<text class="g" x="625.5" y="1470.99">ATP10B</text>
<text class="g" x="625.5" y="1484.46">CTCF</text>
<text class="g" x="625.5" y="1497.93">EPHB1</text>
<text class="g" x="625.5" y="1511.4">FAT1</text>
<text class="g" x="625.5" y="1524.87">MAPK1</text>
<text class="g" x="625.5" y="1538.34">NOTCH1</text>
<text class="g" x="625.5" y="1551.81">NOTCH2</text>
<text class="g" x="625.5" y="1565.28">PIK3CA</text>
<text class="c pt" transform="translate(507.65 1576.9) rotate(-45)">Primary tumour</text>
<text class="c" transform="translate(531.7 1577.4) rotate(-45)">pre-sctDNA</text>
<text class="c" transform="translate(552.45 1577.4) rotate(-45)">pre-ctDNA</text>
<text class="c" transform="translate(572.2 1577.7) rotate(-45)">TAT</text>
<text class="c ps" transform="translate(593.95 1577.4) rotate(-45)">post-sctDNA</text>
<text class="c" transform="translate(614.7 1577.4) rotate(-45)">post-ctDNA</text>
<text class="t" x="544.45" y="1439.2">P20</text>
</g>
<g>
<rect x="47.25" y="1690.94" width="124.5" height="40.41" fill="#fff"/>
<rect x="47.25" y="1690.94" width="62.25" height="13.47" fill="#6495ed"/>
<rect x="47.25" y="1704.41" width="62.25" height="13.47" fill="#6495ed"/>
<rect x="47.25" y="1717.88" width="62.25" height="13.47" fill="#ffb6c1"/>
<path d="M47.25 1690.94H171.75M47.25 1704.41H171.75M47.25 1717.88H171.75M47.25 1731.36H171.75M47.25 1690.94V1731.36M68 1690.94V1731.36M88.75 1690.94V1731.36M109.5 1690.94V1731.36M130.25 1690.94V1731.36M151 1690.94V1731.36M171.75 1690.94V1731.36" class="gl"/>
<rect x="68.8" y="1705.12" width="19.45" height="12.27" fill="#fff"/>
<text class="g" x="179.9" y="1701.63">MYC</text>
<text class="g" x="179.9" y="1715.1">NOTCH2</text>
<text class="g" x="179.9" y="1728.57">TP53</text>
<text class="c pt" transform="translate(62.15 1739.4) rotate(-45)">Primary tumour</text>
<text class="c" transform="translate(86.2 1739.9) rotate(-45)">pre-sctDNA</text>
<text class="c" transform="translate(106.95 1739.9) rotate(-45)">pre-ctDNA</text>
<text class="c" transform="translate(126.7 1740.2) rotate(-45)">TAT</text>
<text class="c ps" transform="translate(148.45 1739.9) rotate(-45)">post-sctDNA</text>
<text class="c" transform="translate(169.2 1739.9) rotate(-45)">post-ctDNA</text>
<text class="t" x="97.8" y="1683.55">P23</text>
</g>
<g>
<rect x="268.8" y="1693.26" width="124.5" height="13.47" fill="#fff"/>
<rect x="268.8" y="1693.26" width="20.75" height="13.47" fill="#6495ed"/>
<rect x="310.3" y="1693.26" width="20.75" height="13.47" fill="#6495ed"/>
<path d="M268.8 1693.26H393.3M268.8 1706.73H393.3M268.8 1693.26V1706.73M289.55 1693.26V1706.73M310.3 1693.26V1706.73M331.05 1693.26V1706.73M351.8 1693.26V1706.73M372.55 1693.26V1706.73M393.3 1693.26V1706.73" class="gl"/>
<text class="g" x="401.7" y="1703.95">HRAS</text>
<text class="c pt" transform="translate(282.95 1715) rotate(-45)">Primary tumour</text>
<text class="c" transform="translate(307 1715.5) rotate(-45)">pre-sctDNA</text>
<text class="c" transform="translate(327.75 1715.5) rotate(-45)">pre-ctDNA</text>
<text class="c" transform="translate(347.5 1715.8) rotate(-45)">TAT</text>
<text class="c ps" transform="translate(369.25 1715.5) rotate(-45)">post-sctDNA</text>
<text class="c" transform="translate(390 1715.5) rotate(-45)">post-ctDNA</text>
<text class="t" x="319.45" y="1684.5">P24</text>
</g>
<g>
<rect x="493.9" y="1689.33" width="103.75" height="94.29" fill="#fff"/>
<rect x="493.9" y="1689.33" width="103.75" height="13.47" fill="#6495ed"/>
<rect x="493.9" y="1702.8" width="103.75" height="13.47" fill="#7fffd4"/>
<rect x="493.9" y="1716.27" width="20.75" height="13.47" fill="#7fffd4"/>
<rect x="493.9" y="1729.74" width="20.75" height="13.47" fill="#ff0000"/>
<rect x="493.9" y="1743.21" width="20.75" height="13.47" fill="#6495ed"/>
<rect x="493.9" y="1756.68" width="20.75" height="13.47" fill="#8b668b"/>
<rect x="493.9" y="1770.15" width="20.75" height="13.47" fill="#6495ed"/>
<path d="M493.9 1689.33H597.65M493.9 1702.8H597.65M493.9 1716.27H597.65M493.9 1729.74H597.65M493.9 1743.21H597.65M493.9 1756.68H597.65M493.9 1770.15H597.65M493.9 1783.62H597.65M493.9 1689.33V1783.62M514.65 1689.33V1783.62M535.4 1689.33V1783.62M556.15 1689.33V1783.62M576.9 1689.33V1783.62M597.65 1689.33V1783.62" class="gl"/>
<rect x="556.55" y="1688.93" width="41.7" height="13.47" fill="#6495ed"/>
<rect x="596.4" y="1703.2" width="0.85" height="12.67" fill="#ffffff"/>
<rect x="575.75" y="1703.2" width="0.75" height="12.67" fill="#ffffff"/>
<rect x="556.55" y="1703.1" width="19.95" height="0.5" fill="#ffffff"/>
<rect x="577.3" y="1703.1" width="19.95" height="0.5" fill="#ffffff"/>
<text class="g" x="605.9" y="1700.01">AKT1</text>
<text class="g" x="605.9" y="1713.48">DHX9</text>
<text class="g" x="605.9" y="1726.95">FAT1</text>
<text class="g" x="605.9" y="1740.42">FBXW7</text>
<text class="g" x="605.9" y="1753.89">PIK3CA</text>
<text class="g" x="605.9" y="1767.37">TERT</text>
<text class="g" x="605.9" y="1780.84">TP53</text>
<text class="c pt" transform="translate(507.7 1791.7) rotate(-45)">Primary tumour</text>
<text class="c" transform="translate(531.75 1792.2) rotate(-45)">pre-sctDNA</text>
<text class="c" transform="translate(552.5 1792.2) rotate(-45)">pre-ctDNA</text>
<text class="c ps" transform="translate(573.25 1792.2) rotate(-45)">post-sctDNA</text>
<text class="c ps" transform="translate(594 1792.2) rotate(-45)">post-sctDNA</text>
<text class="t" x="543.05" y="1680.5">P25</text>
<polygon points="570.79,1671.55 576.2,1674.95 581.61,1671.55 581.61,1678.97 576.2,1682.1 570.79,1678.97" fill="#000"/>
</g>
<g>
<rect x="49.45" y="1912.04" width="124.5" height="80.82" fill="#fff"/>
<rect x="49.45" y="1912.04" width="20.75" height="13.47" fill="#6495ed"/>
<rect x="111.7" y="1925.51" width="20.75" height="13.47" fill="#6495ed"/>
<rect x="111.7" y="1938.98" width="20.75" height="13.47" fill="#6495ed"/>
<rect x="111.7" y="1952.45" width="20.75" height="13.47" fill="#6495ed"/>
<rect x="49.45" y="1965.92" width="20.75" height="13.47" fill="#6495ed"/>
<rect x="90.95" y="1965.92" width="20.75" height="13.47" fill="#6495ed"/>
<rect x="49.45" y="1979.39" width="20.75" height="13.47" fill="#8470ff"/>
<rect x="111.7" y="1979.39" width="20.75" height="13.47" fill="#f4a460"/>
<path d="M49.45 1912.04H173.95M49.45 1925.51H173.95M49.45 1938.98H173.95M49.45 1952.45H173.95M49.45 1965.92H173.95M49.45 1979.39H173.95M49.45 1992.86H173.95M49.45 1912.04V1992.86M70.2 1912.04V1992.86M90.95 1912.04V1992.86M111.7 1912.04V1992.86M132.45 1912.04V1992.86M153.2 1912.04V1992.86M173.95 1912.04V1992.86" class="gl"/>
<text class="g" x="179.1" y="1922.72">BRD2</text>
<text class="g" x="179.1" y="1936.19">CTNNA2</text>
<text class="g" x="179.1" y="1949.66">FAT1</text>
<text class="g" x="179.1" y="1963.13">NF1</text>
<text class="g" x="179.1" y="1976.61">PTPRD</text>
<text class="g" x="179.1" y="1990.08">TP53</text>
<text class="c pt" transform="translate(64.85 2001) rotate(-45)">Primary tumour</text>
<text class="c" transform="translate(88.9 2001.5) rotate(-45)">pre-sctDNA</text>
<text class="c" transform="translate(109.65 2001.5) rotate(-45)">pre-ctDNA</text>
<text class="c" transform="translate(129.4 2001.8) rotate(-45)">TAT</text>
<text class="c ps" transform="translate(151.15 2001.5) rotate(-45)">post-sctDNA</text>
<text class="c" transform="translate(171.9 2001.5) rotate(-45)">post-ctDNA</text>
<text class="t" x="99.85" y="1904.3">P08</text>
<polygon points="90.3,1890.61 93.04,1895.39 97.73,1896.1 94.22,1899.82 95.05,1905.99 90.3,1902.71 85.55,1905.99 86.38,1899.82 82.87,1896.1 87.56,1895.39" fill="#000" fill-rule="nonzero"/>
</g>
<g>
<rect x="273.27" y="1910.72" width="124.5" height="107.76" fill="#fff"/>
<rect x="273.27" y="1910.72" width="20.75" height="13.47" fill="#6495ed"/>
<rect x="273.27" y="1924.19" width="20.75" height="13.47" fill="#6495ed"/>
<rect x="273.27" y="1937.66" width="20.75" height="13.47" fill="#8470ff"/>
<rect x="335.52" y="1951.13" width="20.75" height="13.47" fill="#6495ed"/>
<rect x="273.27" y="1964.6" width="20.75" height="13.47" fill="#ffb6c1"/>
<rect x="273.27" y="1978.07" width="20.75" height="13.47" fill="#7fffd4"/>
<rect x="273.27" y="1991.54" width="20.75" height="13.47" fill="#6495ed"/>
<rect x="273.27" y="2005.01" width="20.75" height="13.47" fill="#8470ff"/>
<rect x="314.77" y="2005.01" width="20.75" height="13.47" fill="#8470ff"/>
<rect x="356.27" y="2005.01" width="41.5" height="13.47" fill="#8470ff"/>
<path d="M273.27 1910.72H397.77M273.27 1924.19H397.77M273.27 1937.66H397.77M273.27 1951.13H397.77M273.27 1964.6H397.77M273.27 1978.07H397.77M273.27 1991.54H397.77M273.27 2005.01H397.77M273.27 2018.48H397.77M273.27 1910.72V2018.48M294.02 1910.72V2018.48M314.77 1910.72V2018.48M335.52 1910.72V2018.48M356.27 1910.72V2018.48M377.02 1910.72V2018.48M397.77 1910.72V2018.48" class="gl"/>
<text class="g" x="402.2" y="1921.4">BCR</text>
<text class="g" x="402.2" y="1934.88">BRCA1</text>
<text class="g" x="402.2" y="1948.35">CDK12</text>
<text class="g" x="402.2" y="1961.82">CHEK2</text>
<text class="g" x="402.2" y="1975.29">NOTCH1</text>
<text class="g" x="402.2" y="1988.76">NOTCH2</text>
<text class="g" x="402.2" y="2002.23">PIK3CA</text>
<text class="g" x="402.2" y="2015.7">TP53</text>
<text class="c pt" transform="translate(287.45 2026.4) rotate(-45)">Primary tumour</text>
<text class="c" transform="translate(311.5 2026.9) rotate(-45)">pre-sctDNA</text>
<text class="c" transform="translate(332.25 2026.9) rotate(-45)">pre-ctDNA</text>
<text class="c" transform="translate(352 2027.2) rotate(-45)">TAT</text>
<text class="c ps" transform="translate(373.75 2026.9) rotate(-45)">post-sctDNA</text>
<text class="c" transform="translate(394.5 2026.9) rotate(-45)">post-ctDNA</text>
<text class="t" x="327.65" y="1903.1">P09</text>
<polygon points="361.35,1891.45 366.81,1894.6 366.81,1900.9 361.35,1904.05 355.89,1900.9 355.89,1894.6" fill="#000"/>
</g>
<g>
<rect x="488.48" y="1899.65" width="124.5" height="134.7" fill="#fff"/>
<rect x="488.48" y="1899.65" width="20.75" height="13.47" fill="#6495ed"/>
<rect x="529.98" y="1899.65" width="20.75" height="13.47" fill="#6495ed"/>
<rect x="488.48" y="1913.12" width="20.75" height="13.47" fill="#7fffd4"/>
<rect x="529.98" y="1913.12" width="20.75" height="13.47" fill="#7fffd4"/>
<rect x="488.48" y="1926.59" width="20.75" height="13.47" fill="#ffb6c1"/>
<rect x="529.98" y="1926.59" width="20.75" height="13.47" fill="#ffb6c1"/>
<rect x="488.48" y="1940.06" width="20.75" height="13.47" fill="#6495ed"/>
<rect x="488.48" y="1953.53" width="20.75" height="13.47" fill="#ffb6c1"/>
<rect x="529.98" y="1953.53" width="20.75" height="13.47" fill="#ffb6c1"/>
<rect x="488.48" y="1967" width="20.75" height="13.47" fill="#6495ed"/>
<rect x="529.98" y="1967" width="20.75" height="13.47" fill="#6495ed"/>
<rect x="488.48" y="1980.47" width="20.75" height="13.47" fill="#6495ed"/>
<rect x="529.98" y="1980.47" width="20.75" height="13.47" fill="#6495ed"/>
<rect x="550.73" y="1993.94" width="20.75" height="13.47" fill="#6495ed"/>
<rect x="488.48" y="2007.41" width="20.75" height="13.47" fill="#ff0000"/>
<rect x="488.48" y="2020.88" width="20.75" height="13.47" fill="#8470ff"/>
<rect x="529.98" y="2020.88" width="20.75" height="13.47" fill="#8470ff"/>
<path d="M488.48 1899.65H612.98M488.48 1913.12H612.98M488.48 1926.59H612.98M488.48 1940.06H612.98M488.48 1953.53H612.98M488.48 1967H612.98M488.48 1980.47H612.98M488.48 1993.94H612.98M488.48 2007.41H612.98M488.48 2020.88H612.98M488.48 2034.35H612.98M488.48 1899.65V2034.35M509.23 1899.65V2034.35M529.98 1899.65V2034.35M550.73 1899.65V2034.35M571.48 1899.65V2034.35M592.23 1899.65V2034.35M612.98 1899.65V2034.35" class="gl"/>
<text class="g" x="620" y="1910.34">ABL2</text>
<text class="g" x="620" y="1923.81">BRCA2</text>
<text class="g" x="620" y="1937.28">CDKN2A</text>
<text class="g" x="620" y="1950.75">CHI3L1</text>
<text class="g" x="620" y="1964.22">FAT1</text>
<text class="g" x="620" y="1977.69">FGFR2</text>
<text class="g" x="620" y="1991.16">FLT1</text>
<text class="g" x="620" y="2004.63">NOTCH1</text>
<text class="g" x="620" y="2018.1">NOTCH2</text>
<text class="g" x="620" y="2031.57">TP53</text>
<text class="c pt" transform="translate(502.95 2043) rotate(-45)">Primary tumour</text>
<text class="c" transform="translate(527 2043.5) rotate(-45)">pre-sctDNA</text>
<text class="c" transform="translate(547.75 2043.5) rotate(-45)">pre-ctDNA</text>
<text class="c" transform="translate(567.5 2043.8) rotate(-45)">TAT</text>
<text class="c ps" transform="translate(589.25 2043.5) rotate(-45)">post-sctDNA</text>
<text class="c" transform="translate(610 2043.5) rotate(-45)">post-ctDNA</text>
<text class="t" x="539.25" y="1892.1">P22</text>
</g>
<g>
<rect x="49.05" y="2133.04" width="124.5" height="80.82" fill="#fff"/>
<rect x="49.05" y="2133.04" width="20.75" height="13.47" fill="#ffb6c1"/>
<rect x="49.05" y="2146.51" width="20.75" height="13.47" fill="#6495ed"/>
<rect x="49.05" y="2159.98" width="62.25" height="13.47" fill="#ffb6c1"/>
<rect x="49.05" y="2173.45" width="20.75" height="13.47" fill="#ffb6c1"/>
<rect x="49.05" y="2186.92" width="20.75" height="13.47" fill="#6495ed"/>
<rect x="90.55" y="2186.92" width="20.75" height="13.47" fill="#6495ed"/>
<rect x="49.05" y="2200.39" width="20.75" height="13.47" fill="#f4a460"/>
<rect x="69.8" y="2200.39" width="41.5" height="13.47" fill="#6495ed"/>
<rect x="111.3" y="2200.39" width="20.75" height="13.47" fill="#ffb6c1"/>
<path d="M49.05 2133.04H173.55M49.05 2146.51H173.55M49.05 2159.98H173.55M49.05 2173.45H173.55M49.05 2186.92H173.55M49.05 2200.39H173.55M49.05 2213.86H173.55M49.05 2133.04V2213.86M69.8 2133.04V2213.86M90.55 2133.04V2213.86M111.3 2133.04V2213.86M132.05 2133.04V2213.86M152.8 2133.04V2213.86M173.55 2133.04V2213.86" class="gl"/>
<text class="g" x="178.5" y="2143.72">ATR</text>
<text class="g" x="178.5" y="2157.19">CTNNB1</text>
<text class="g" x="178.5" y="2170.66">FAT1</text>
<text class="g" x="178.5" y="2184.13">KRAS</text>
<text class="g" x="178.5" y="2197.6">PTPRD</text>
<text class="g" x="178.5" y="2211.07">TP53</text>
<text class="c pt" transform="translate(64.45 2222) rotate(-45)">Primary tumour</text>
<text class="c" transform="translate(88.5 2222.5) rotate(-45)">pre-sctDNA</text>
<text class="c" transform="translate(109.25 2222.5) rotate(-45)">pre-ctDNA</text>
<text class="c" transform="translate(129 2222.8) rotate(-45)">TAT</text>
<text class="c ps" transform="translate(150.75 2222.5) rotate(-45)">post-sctDNA</text>
<text class="c" transform="translate(171.5 2222.5) rotate(-45)">post-ctDNA</text>
<text class="t" x="99.45" y="2125.6">P16</text>
<polygon points="89.7,2111.21 92.44,2115.99 97.13,2116.7 93.62,2120.42 94.45,2126.59 89.7,2123.31 84.95,2126.59 85.78,2120.42 82.27,2116.7 86.96,2115.99" fill="#000" fill-rule="nonzero"/>
</g>
<g>
<rect x="271.77" y="2133.14" width="124.5" height="80.82" fill="#fff"/>
<rect x="271.77" y="2133.14" width="20.75" height="13.47" fill="#6495ed"/>
<rect x="271.77" y="2146.61" width="20.75" height="13.47" fill="#8470ff"/>
<rect x="313.27" y="2146.61" width="20.75" height="13.47" fill="#8470ff"/>
<rect x="271.77" y="2160.08" width="20.75" height="13.47" fill="#6495ed"/>
<rect x="313.27" y="2160.08" width="20.75" height="13.47" fill="#6495ed"/>
<rect x="271.77" y="2173.55" width="20.75" height="13.47" fill="#ffb6c1"/>
<rect x="313.27" y="2173.55" width="20.75" height="13.47" fill="#ffb6c1"/>
<rect x="271.77" y="2187.02" width="20.75" height="13.47" fill="#6495ed"/>
<rect x="271.77" y="2200.49" width="20.75" height="13.47" fill="#6495ed"/>
<path d="M271.77 2133.14H396.27M271.77 2146.61H396.27M271.77 2160.08H396.27M271.77 2173.55H396.27M271.77 2187.02H396.27M271.77 2200.49H396.27M271.77 2213.96H396.27M271.77 2133.14V2213.96M292.52 2133.14V2213.96M313.27 2133.14V2213.96M334.02 2133.14V2213.96M354.77 2133.14V2213.96M375.52 2133.14V2213.96M396.27 2133.14V2213.96" class="gl"/>
<text class="g" x="403" y="2143.82">CDH23</text>
<text class="g" x="403" y="2157.29">FAT1</text>
<text class="g" x="403" y="2170.76">HCLS1</text>
<text class="g" x="403" y="2184.23">KDR</text>
<text class="g" x="403" y="2197.7">PIK3R2</text>
<text class="g" x="403" y="2211.17">TP53</text>
<text class="c pt" transform="translate(286.85 2222) rotate(-45)">Primary tumour</text>
<text class="c" transform="translate(310.9 2222.5) rotate(-45)">pre-sctDNA</text>
<text class="c" transform="translate(331.65 2222.5) rotate(-45)">pre-ctDNA</text>
<text class="c" transform="translate(351.4 2222.8) rotate(-45)">TAT</text>
<text class="c ps" transform="translate(373.15 2222.5) rotate(-45)">post-sctDNA</text>
<text class="c" transform="translate(393.9 2222.5) rotate(-45)">post-ctDNA</text>
<text class="t" x="322.15" y="2125.6">P17</text>
</g>
<g>
<rect x="486.62" y="2138.74" width="124.5" height="40.41" fill="#fff"/>
<rect x="486.62" y="2138.74" width="62.25" height="13.47" fill="#8470ff"/>
<rect x="569.62" y="2138.74" width="20.75" height="13.47" fill="#8470ff"/>
<rect x="486.62" y="2152.21" width="62.25" height="13.47" fill="#6495ed"/>
<rect x="486.62" y="2165.68" width="62.25" height="13.47" fill="#6495ed"/>
<rect x="548.88" y="2165.68" width="20.75" height="13.47" fill="#f4a460"/>
<path d="M486.62 2138.74H611.12M486.62 2152.21H611.12M486.62 2165.68H611.12M486.62 2179.15H611.12M486.62 2138.74V2179.15M507.38 2138.74V2179.15M528.12 2138.74V2179.15M548.88 2138.74V2179.15M569.62 2138.74V2179.15M590.38 2138.74V2179.15M611.12 2138.74V2179.15" class="gl"/>
<text class="g" x="618" y="2149.43">FAT1</text>
<text class="g" x="618" y="2162.9">PDK1</text>
<text class="g" x="618" y="2176.37">TP53</text>
<text class="c pt" transform="translate(500.95 2187) rotate(-45)">Primary tumour</text>
<text class="c" transform="translate(525 2187.5) rotate(-45)">pre-sctDNA</text>
<text class="c" transform="translate(545.75 2187.5) rotate(-45)">pre-ctDNA</text>
<text class="c" transform="translate(565.5 2187.8) rotate(-45)">TAT</text>
<text class="c ps" transform="translate(587.25 2187.5) rotate(-45)">post-sctDNA</text>
<text class="c" transform="translate(608 2187.5) rotate(-45)">post-ctDNA</text>
<text class="t" x="536.95" y="2131.1">P26</text>
<polygon points="527.55,2116.71 530.29,2121.49 534.98,2122.2 531.47,2125.92 532.3,2132.09 527.55,2128.81 522.8,2132.09 523.63,2125.92 520.12,2122.2 524.81,2121.49" fill="#000" fill-rule="nonzero"/>
<polygon points="571.1,2119.9 576.56,2123.05 576.56,2129.35 571.1,2132.5 565.64,2129.35 565.64,2123.05" fill="#000"/>
</g>
<g>
<rect x="41.62" y="2311.39" width="124.5" height="175.11" fill="#fff"/>
<rect x="103.88" y="2311.39" width="20.75" height="13.47" fill="#6495ed"/>
<rect x="41.62" y="2324.86" width="41.5" height="13.47" fill="#ffb6c1"/>
<rect x="41.62" y="2338.34" width="41.5" height="13.47" fill="#6495ed"/>
<rect x="41.62" y="2351.8" width="20.75" height="13.47" fill="#6495ed"/>
<rect x="41.62" y="2365.28" width="41.5" height="13.47" fill="#6495ed"/>
<rect x="41.62" y="2378.74" width="20.75" height="13.47" fill="#6495ed"/>
<rect x="41.62" y="2392.22" width="41.5" height="13.47" fill="#6495ed"/>
<rect x="103.88" y="2405.68" width="20.75" height="13.47" fill="#6495ed"/>
<rect x="41.62" y="2419.16" width="62.25" height="13.47" fill="#6495ed"/>
<rect x="41.62" y="2432.62" width="62.25" height="13.47" fill="#ffb6c1"/>
<rect x="41.62" y="2446.09" width="20.75" height="13.47" fill="#8b668b"/>
<rect x="41.62" y="2459.57" width="62.25" height="13.47" fill="#ffb6c1"/>
<rect x="103.88" y="2473.03" width="20.75" height="13.47" fill="#6495ed"/>
<path d="M41.62 2311.39H166.12M41.62 2324.86H166.12M41.62 2338.34H166.12M41.62 2351.8H166.12M41.62 2365.28H166.12M41.62 2378.74H166.12M41.62 2392.22H166.12M41.62 2405.68H166.12M41.62 2419.16H166.12M41.62 2432.62H166.12M41.62 2446.09H166.12M41.62 2459.57H166.12M41.62 2473.03H166.12M41.62 2486.51H166.12M41.62 2311.39V2486.51M62.38 2311.39V2486.51M83.12 2311.39V2486.51M103.88 2311.39V2486.51M124.62 2311.39V2486.51M145.38 2311.39V2486.51M166.12 2311.39V2486.51" class="gl"/>
<text class="g" x="172.7" y="2322.08">ATG9B</text>
<text class="g" x="172.7" y="2335.55">COL19A1</text>
<text class="g" x="172.7" y="2349.02">DCST1</text>
<text class="g" x="172.7" y="2362.49">EPHA5</text>
<text class="g" x="172.7" y="2375.96">FAM5C</text>
<text class="g" x="172.7" y="2389.43">HDAC1</text>
<text class="g" x="172.7" y="2402.9">KDR</text>
<text class="g" x="172.7" y="2416.37">MSH2</text>
<text class="g" x="172.7" y="2429.84">NTRK3</text>
<text class="g" x="172.7" y="2443.31">PTCH2</text>
<text class="g" x="172.7" y="2456.78">TERT</text>
<text class="g" x="172.7" y="2470.25">TP53</text>
<text class="g" x="172.7" y="2483.72">TPH2</text>
<text class="c pt" transform="translate(55.95 2495.4) rotate(-45)">Primary tumour</text>
<text class="c" transform="translate(80 2495.9) rotate(-45)">pre-sctDNA</text>
<text class="c" transform="translate(100.75 2495.9) rotate(-45)">pre-ctDNA</text>
<text class="c" transform="translate(120.5 2496.2) rotate(-45)">TAT</text>
<text class="c ps" transform="translate(142.25 2495.9) rotate(-45)">post-sctDNA</text>
<text class="c" transform="translate(163 2495.9) rotate(-45)">post-ctDNA</text>
<text class="t" x="91.9" y="2303.85">P21</text>
</g>
<g>
<rect x="573.1" y="2307.95" width="10.2" height="16.65" fill="#ff0000"/>
<text class="l" x="590.2" y="2320.3">Span</text>
<rect x="573.1" y="2324.3" width="10.2" height="16.65" fill="#2e8b57"/>
<text class="l" x="590.2" y="2336.65">Stop-gain</text>
<rect x="573.1" y="2340.65" width="10.2" height="16.65" fill="#8b668b"/>
<text class="l" x="590.2" y="2353">Promoter mutation</text>
<rect x="573.1" y="2357" width="10.2" height="16.65" fill="#f4a460"/>
<text class="l" x="590.2" y="2369.35">Muti-hit</text>
<rect x="573.1" y="2373.35" width="10.2" height="16.65" fill="#808080"/>
<text class="l" x="590.2" y="2385.7">In-Frame deletion</text>
<rect x="573.1" y="2389.7" width="10.2" height="16.65" fill="#7fffd4"/>
<text class="l" x="590.2" y="2402.05">Splice site mutation</text>
<rect x="573.1" y="2406.05" width="10.2" height="16.65" fill="#8470ff"/>
<text class="l" x="590.2" y="2418.4">Frame-shift Indel</text>
<rect x="573.1" y="2422.4" width="10.2" height="16.65" fill="#6495ed"/>
<text class="l" x="590.2" y="2434.75">Missense mutation</text>
<rect x="573.1" y="2438.75" width="10.2" height="16.65" fill="#ffb6c1"/>
<text class="l" x="590.2" y="2451.1">Nonsense mutation</text>
<text class="l" x="590.2" y="2467.45">Wild type</text>
</g>
</svg>
</body>
</html>
